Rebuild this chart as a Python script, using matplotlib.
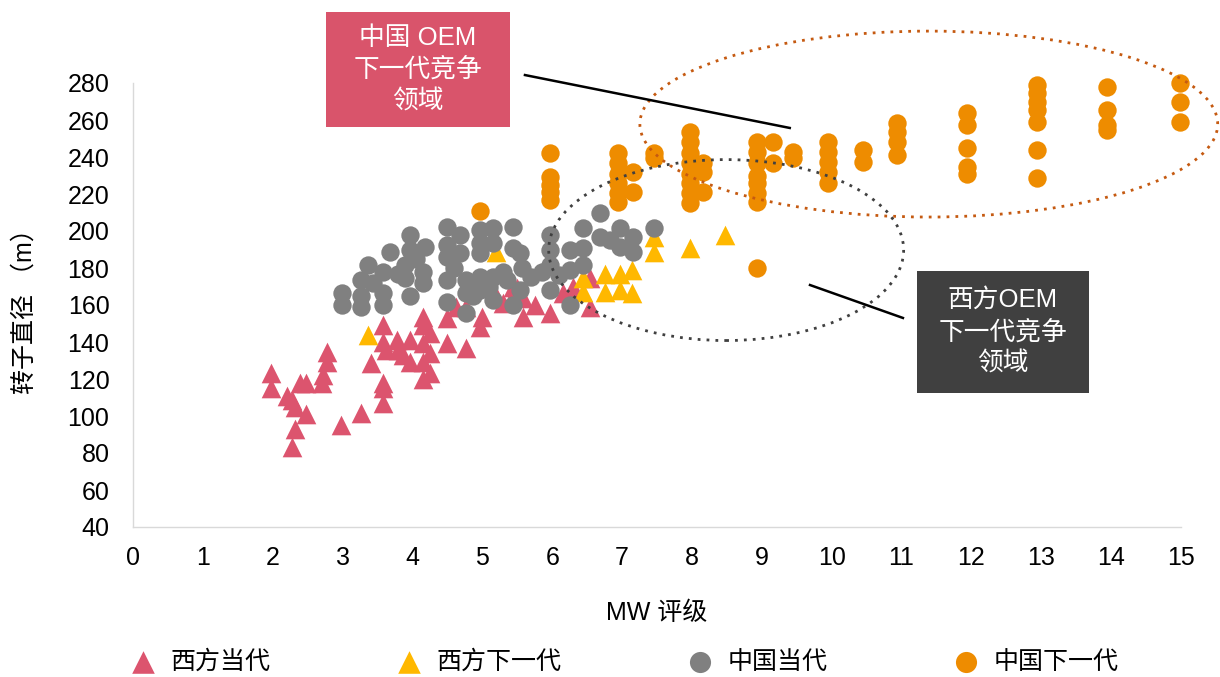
import matplotlib.pyplot as plt
from matplotlib.patches import Ellipse, Rectangle

plt.rcParams['font.family'] = ['Liberation Sans', 'Noto Sans CJK SC', 'DejaVu Sans']

# 西方当代 (red triangles)
west_cur_x = [1.98, 1.98, 2.2, 2.27, 2.32, 2.39, 2.48, 2.48, 2.32, 2.27, 2.77, 2.77, 2.72, 2.7,
              2.98, 3.27, 3.41, 3.58, 3.58, 3.58, 3.58, 3.58, 3.62, 3.78, 3.8, 3.87, 3.96, 3.96,
              4.15, 4.15, 4.25, 4.15, 4.25, 4.15, 4.25, 4.15, 4.49, 4.49, 4.77, 4.97, 4.77, 4.63,
              4.99, 5.3, 5.44, 5.5, 5.58, 5.58, 5.97, 6.16, 6.54, 6.54, 5.2, 6.3, 5.75]
west_cur_y = [123, 115, 111, 108.6, 105, 118, 118, 101, 93, 83, 134.6, 129, 122, 118,
              95, 101.6, 128.6, 118, 115, 107, 149, 140, 135.7, 141, 135.7, 133, 141, 129,
              153.5, 149, 145, 139.5, 134, 129, 123, 120, 153, 139.5, 137, 148, 159, 159,
              153.5, 161, 170, 169, 164, 153.5, 155.7, 166.5, 159, 174.6, 165, 170, 160]

# 西方下一代 (yellow triangles)
west_next_x = [3.37, 5.2, 6.44, 6.44, 6.76, 6.76, 6.97, 6.97, 7.14, 7.14, 7.45, 7.45, 7.97, 8.47]
west_next_y = [143.8, 188.6, 174.6, 167, 177, 167, 177, 168, 179, 166.5, 188.6, 197, 191, 198]

# 中国当代 (grey circles)
cn_cur_x = [2.99, 2.99, 3.27, 3.27, 3.27, 3.37, 3.43, 3.58, 3.58, 3.58, 3.68, 3.89, 3.89, 3.97,
            3.97, 3.97, 4.18, 4.15, 4.15, 4.49, 4.49, 4.49, 4.68, 4.68, 4.49, 4.49, 4.77, 4.77,
            4.77, 4.97, 4.97, 4.97, 5.15, 5.15, 5.44, 5.44, 4.97, 4.97, 5.15, 5.15, 5.35, 5.54,
            5.44, 5.54, 5.57, 5.3, 5.1, 4.87, 5.7, 5.97, 5.97, 5.97, 5.97, 6.25, 6.25, 6.25,
            6.44, 6.44, 6.44, 6.68, 6.68, 6.83, 6.97, 6.97, 7.16, 7.16, 7.45, 5.85, 6.1, 4.6,
            3.8, 4.05]
cn_cur_y = [166.5, 160, 173.5, 165, 159, 181.6, 172, 178, 166.5, 160, 188.6, 181.6, 174.6, 198,
            190, 165, 191.6, 178, 172, 202, 192.4, 186, 198, 188, 173.5, 161.6, 173.5, 166.5,
            155.7, 200.5, 193.5, 188, 201.6, 193.5, 202, 191, 175, 168, 175, 162.7, 173.5, 168,
            160, 188, 180, 178, 170, 165, 175, 198, 190, 181.6, 168, 190, 179, 160,
            201.6, 191, 181.6, 209.7, 197, 195, 201.6, 191.6, 197, 188.6, 201.6, 178, 176, 180,
            177, 185]

# 中国下一代 (orange circles)
cn_next_x = [4.97, 5.97, 5.97, 5.97, 5.97, 5.97,
             6.94, 6.94, 6.94, 6.94, 6.94, 6.94, 7.16, 7.16, 7.45, 7.45,
             7.97, 7.97, 7.97, 7.97, 7.97, 7.97, 7.97, 7.97, 8.16, 8.16, 8.16,
             8.93, 8.93, 8.93, 8.93, 8.93, 8.93, 8.93, 9.16, 9.16, 8.93, 9.45, 9.45,
             9.95, 9.95, 9.95, 9.95, 9.95, 10.45, 10.45, 10.93, 10.93, 10.93, 10.93,
             11.93, 11.93, 11.93, 11.93, 11.93,
             12.94, 12.94, 12.94, 12.94, 12.94, 12.94, 12.94,
             13.94, 13.94, 13.94, 13.94, 14.98, 14.98, 14.98]
cn_next_y = [210.6, 242, 229, 225, 221, 216.8,
             242, 236.8, 231, 226, 220.5, 215.7, 232, 221, 242, 239.5,
             253.5, 248, 242, 236.8, 231, 226, 220.5, 215, 237, 232, 221,
             248, 242.7, 236.8, 230, 226, 220.5, 215.7, 248, 236.8, 180, 242.7, 239.5,
             248, 242.7, 237.3, 232, 226, 243.8, 237.3, 258.4, 253.5, 248, 241,
             263.8, 257.3, 244.9, 234.6, 231,
             279, 274.6, 269.7, 265.4, 259, 243.8, 228.6,
             278, 265.4, 257.3, 254.6, 280, 269.7, 259]

labels = ['西方当代', '西方下一代', '中国当代', '中国下一代']
colors = ['#DC546E', '#FFB800', '#808080', '#EE8C00']

fig = plt.figure(figsize=(12.2, 6.77), dpi=100)
ax = fig.add_axes([133 / 1220, 1 - 527 / 677, (1181 - 133) / 1220, (527 - 83) / 677])

h1 = ax.scatter(west_cur_x, west_cur_y, s=200, marker='^', color=colors[0], linewidths=0,
                label=labels[0], clip_on=False)
h2 = ax.scatter(west_next_x, west_next_y, s=200, marker='^', color=colors[1], linewidths=0,
                label=labels[1], clip_on=False)
h3 = ax.scatter(cn_cur_x, cn_cur_y, s=175, marker='o', color=colors[2], linewidths=0,
                label=labels[2], clip_on=False)
h4 = ax.scatter(cn_next_x, cn_next_y, s=175, marker='o', color=colors[3], linewidths=0,
                label=labels[3], clip_on=False)

ax.set_xlim(0, 15)
ax.set_ylim(40, 280)
ax.set_xticks(range(0, 16))
ax.set_yticks(range(40, 281, 20))
ax.tick_params(length=0, labelsize=18)
ax.tick_params(axis='y', pad=17)
ax.tick_params(axis='x', pad=14)
for side in ['top', 'right']:
    ax.spines[side].set_visible(False)
for side in ['left', 'bottom']:
    ax.spines[side].set_color('#d9d9d9')
    ax.spines[side].set_linewidth(1)
ax.set_xlabel('MW 评级', fontsize=18, labelpad=22)
ax.set_ylabel('转子直径 （m）', fontsize=18, labelpad=22)

# dotted ellipses around the next-gen regions
ax.add_patch(Ellipse((11.39, 257.8), 8.27, 100.5, fill=False, edgecolor='#C55A11',
                     linestyle=(0, (1, 2.2)), linewidth=2, clip_on=False, zorder=5))
ax.add_patch(Ellipse((8.49, 189.7), 5.08, 97.8, fill=False, edgecolor='#404040',
                     linestyle=(0, (1, 2.2)), linewidth=2, clip_on=False, zorder=5))

# connector lines
ax.plot([5.61, 9.40], [284.3, 255.7], color='black', lw=1.8, clip_on=False, zorder=6)
ax.plot([9.69, 11.02], [170.8, 153.0], color='black', lw=1.8, clip_on=False, zorder=6)


def box(x0, y0, x1, y1, color, text):
    fig.patches.append(Rectangle((x0 / 1220, 1 - y1 / 677), (x1 - x0) / 1220, (y1 - y0) / 677,
                                 transform=fig.transFigure, facecolor=color, edgecolor='none', zorder=7))
    fig.text((x0 + x1) / 2 / 1220, 1 - (y0 + y1) / 2 / 677, text, color='white', fontsize=18.5,
             ha='center', va='center', linespacing=1.4, zorder=8)


box(326, 12, 510, 127, '#D9546B', '中国 OEM\n下一代竞争\n领域')
box(917, 271, 1089, 393, '#404040', '西方OEM\n下一代竞争\n领域')

fig.legend(handles=[h1, h2, h3, h4], loc='center left', bbox_to_anchor=(130 / 1220, 1 - 662 / 677),
           ncol=4, frameon=False, fontsize=18, handlelength=1.0, handletextpad=0.6,
           columnspacing=5.05, scatterpoints=1, markerscale=1.15, borderaxespad=0, borderpad=0)

fig.savefig('out.png', dpi=100)
